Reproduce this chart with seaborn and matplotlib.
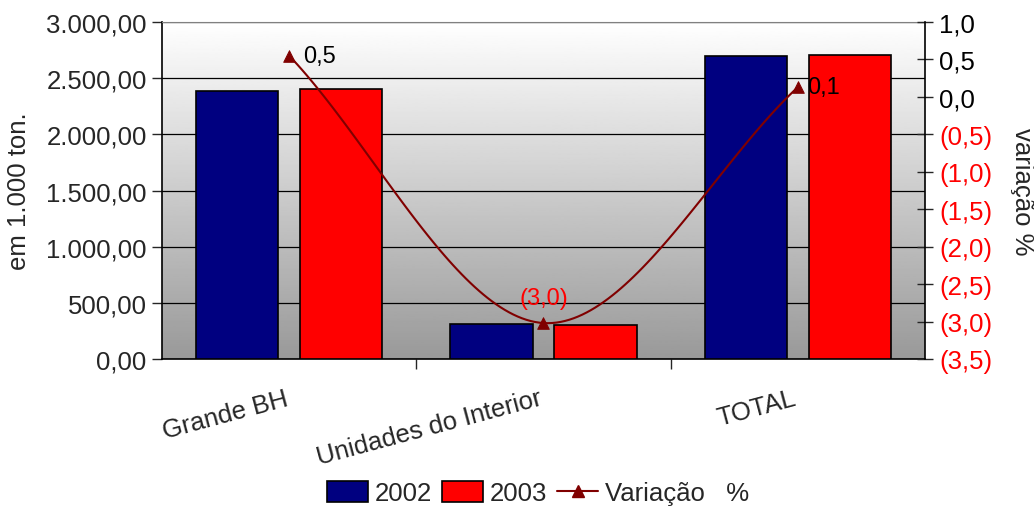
import numpy as np
import pandas as pd
import matplotlib
matplotlib.use("Agg")
import matplotlib.pyplot as plt
import seaborn as sns
from matplotlib.patches import Patch
from matplotlib.lines import Line2D
from matplotlib.ticker import FuncFormatter, MultipleLocator

categories = ["Grande BH", "Unidades do Interior", "TOTAL"]
values_2002 = [2386, 312, 2697]
values_2003 = [2404, 302, 2706]
variacao = [0.55, -3.02, 0.13]
variacao_labels = ["0,5", "(3,0)", "0,1"]

sns.set_style("white")
plt.rcParams["font.family"] = ["Liberation Sans", "DejaVu Sans"]

FS = 18.5

df = pd.DataFrame({
    "cat": categories * 2,
    "val": values_2002 + values_2003,
    "year": ["2002"] * 3 + ["2003"] * 3,
})

fig = plt.figure(figsize=(10.34, 5.10), dpi=100)
ax = fig.add_axes([162 / 1034, 1 - 360 / 510, (925 - 162) / 1034, (360 - 23) / 510])

# gradient background
grad = np.linspace(0.60, 1.0, 256).reshape(-1, 1)
ax.imshow(grad, cmap="gray", vmin=0, vmax=1, aspect="auto", origin="lower",
          extent=[0, 1, 0, 1], transform=ax.transAxes, zorder=0)

sns.barplot(data=df, x="cat", y="val", hue="year", palette=["#000080", "#FF0000"],
            saturation=1, edgecolor="black", linewidth=1.2, width=0.82, gap=0.21,
            legend=False, ax=ax, zorder=3)

ax.set_xlim(-0.5, 2.5)
ax.set_ylim(0, 3000)
ax.yaxis.set_major_locator(MultipleLocator(500))
ax.yaxis.set_major_formatter(FuncFormatter(
    lambda v, p: f"{v:,.2f}".replace(",", "X").replace(".", ",").replace("X", ".")))
ax.grid(axis="y", color="black", linewidth=0.9, zorder=1)
ax.set_axisbelow(True)
ax.tick_params(axis="y", labelsize=FS, length=7, width=1, direction="out", left=True, pad=4)
ax.set_ylabel("em 1.000 ton.", fontsize=FS, labelpad=11)
ax.set_xlabel("")
ax.set_xticks([0, 1, 2])
ax.set_xticklabels([])
ax.tick_params(axis="x", which="major", length=0)
ax.set_xticks([0.5, 1.5], minor=True)
ax.tick_params(axis="x", which="minor", length=7, width=1, direction="out", bottom=True)
for s in ["left", "bottom"]:
    ax.spines[s].set_color("black")
    ax.spines[s].set_linewidth(1.2)
ax.spines["top"].set_color("#808080")
ax.spines["right"].set_visible(False)

for i, c in enumerate(categories):
    ax.text(i - 0.02, -0.08, c, transform=ax.get_xaxis_transform(), rotation=15,
            rotation_mode="anchor", ha="right", va="top", fontsize=FS)

# secondary axis
ax2 = ax.twinx()
ax2.set_ylim(-3.5, 1.0)
ax2.yaxis.set_major_locator(MultipleLocator(0.5))

def fmt_r(v, p):
    s = f"{abs(v):.1f}".replace(".", ",")
    return f"({s})" if v < -1e-9 else s

ax2.yaxis.set_major_formatter(FuncFormatter(fmt_r))
ax2.tick_params(axis="y", labelsize=FS, length=12, width=1, direction="inout", pad=4)
for s in ["left", "bottom", "top"]:
    ax2.spines[s].set_visible(False)
ax2.spines["right"].set_color("black")
ax2.spines["right"].set_linewidth(1.2)
ax2.set_ylabel("variação %", fontsize=FS, rotation=-90, labelpad=30)

# smooth curve (Catmull-Rom through the data points)
xs = np.arange(len(variacao), dtype=float)
ys = np.array(variacao, dtype=float)
px = np.concatenate([[2 * xs[0] - xs[1]], xs, [2 * xs[-1] - xs[-2]]])
py = np.concatenate([[2 * ys[0] - ys[1]], ys, [2 * ys[-1] - ys[-2]]])
cx, cy = [], []
t = np.linspace(0, 1, 60)
for i in range(1, len(px) - 2):
    for arr, out in ((px, cx), (py, cy)):
        p0, p1, p2, p3 = arr[i - 1], arr[i], arr[i + 1], arr[i + 2]
        out.extend(0.5 * ((2 * p1) + (-p0 + p2) * t + (2 * p0 - 5 * p1 + 4 * p2 - p3) * t ** 2
                          + (-p0 + 3 * p1 - 3 * p2 + p3) * t ** 3))
ax2.plot(cx, cy, color="#800000", linewidth=1.5, zorder=5)
sns.scatterplot(x=xs, y=ys, marker="^", s=70, color="#800000", edgecolor="#800000",
                ax=ax2, zorder=6, legend=False)

fig.canvas.draw()
for lbl, v in zip(ax2.get_yticklabels(), ax2.get_yticks()):
    lbl.set_color("red" if v < -1e-9 else "black")

ax2.annotate(variacao_labels[0], (xs[0], ys[0]), xytext=(10, 0), textcoords="offset points",
             ha="left", va="center", fontsize=17, color="black")
ax2.annotate(variacao_labels[1], (xs[1], ys[1]), xytext=(0, 10), textcoords="offset points",
             ha="center", va="bottom", fontsize=17, color="red")
ax2.annotate(variacao_labels[2], (xs[2], ys[2]), xytext=(7, 0), textcoords="offset points",
             ha="left", va="center", fontsize=17, color="black")

handles = [Patch(facecolor="#000080", edgecolor="black", linewidth=1.2),
           Patch(facecolor="#FF0000", edgecolor="black", linewidth=1.2),
           Line2D([0], [0], color="#800000", linewidth=1.5, marker="^", markersize=8)]
fig.legend(handles, ["2002", "2003", "Variação   %"], loc="center",
           bbox_to_anchor=(538 / 1034, 1 - 494 / 510), ncol=3, frameon=False,
           fontsize=FS, handlelength=1.6, handleheight=0.9, handletextpad=0.25,
           columnspacing=0.4)

fig.savefig("out.png", dpi=100)
